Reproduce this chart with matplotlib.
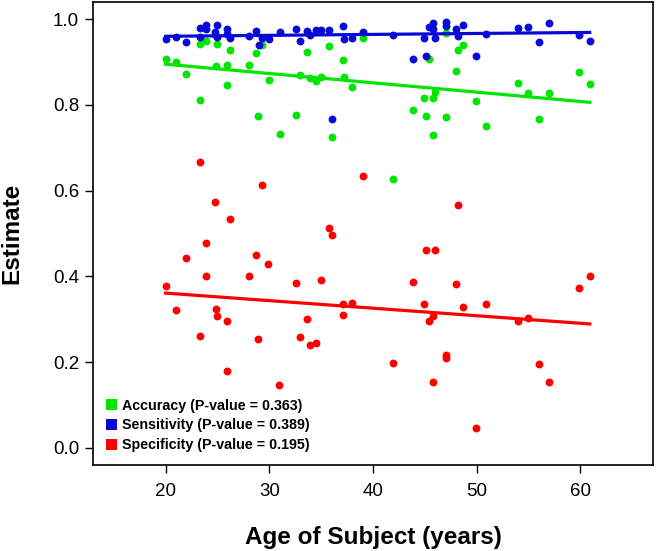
import numpy as np
import matplotlib
matplotlib.use('Agg')
import matplotlib.pyplot as plt
from matplotlib.patches import Patch

plt.rcParams['font.family'] = ['Liberation Sans', 'DejaVu Sans']

# ages (one per subject, sensitivity panel)
age_sens = [20, 21, 22, 23.3, 23.3, 23.9, 23.9, 24.8, 25, 25, 25.9, 25.9, 26.2,
            28, 28.7, 29, 29.3, 30, 31, 32.6, 33, 33.6, 33.9, 34.5, 35, 35.8,
            36, 37.1, 37.2, 38, 39, 41.9, 43.9, 44.9, 45.1, 45.4, 45.8, 45.8,
            46, 47, 47, 48, 48.2, 48.7, 49.9, 50.9, 54, 54.9, 56, 57, 59.9, 60.9]
sensitivity = [0.953, 0.959, 0.947, 0.98, 0.959, 0.987, 0.977, 0.971, 0.987, 0.959,
               0.977, 0.966, 0.955, 0.96, 0.973, 0.94, 0.955, 0.953, 0.969, 0.976,
               0.95, 0.973, 0.963, 0.975, 0.974, 0.974, 0.766, 0.983, 0.953, 0.955,
               0.969, 0.962, 0.907, 0.955, 0.914, 0.982, 0.99, 0.977, 0.955, 0.993,
               0.984, 0.976, 0.96, 0.987, 0.915, 0.965, 0.979, 0.981, 0.947, 0.99,
               0.963, 0.948]

age_acc = [20, 21, 22, 23.3, 23.3, 23.9, 24.8, 24.9, 25, 25.9, 25.9, 26.2, 28,
           28.7, 28.9, 29.3, 30, 31, 32.6, 33, 33.6, 33.9, 34.5, 35, 35.8, 36,
           37.1, 37.2, 38, 39, 41.9, 43.9, 44.9, 45.1, 45.4, 45.8, 45.8, 46, 47,
           47, 48, 48.2, 48.7, 49.9, 50.9, 54, 54.9, 56, 57, 59.9, 60.9]
accuracy = [0.906, 0.9, 0.871, 0.941, 0.812, 0.948, 0.962, 0.891, 0.941, 0.894,
            0.847, 0.927, 0.893, 0.922, 0.775, 0.939, 0.857, 0.731, 0.776, 0.87,
            0.924, 0.862, 0.856, 0.864, 0.938, 0.725, 0.905, 0.864, 0.842, 0.957,
            0.626, 0.787, 0.815, 0.775, 0.907, 0.815, 0.73, 0.831, 0.967, 0.772,
            0.88, 0.927, 0.939, 0.808, 0.751, 0.851, 0.828, 0.766, 0.827, 0.876,
            0.848]

age_spec = [23.3, 39, 29.3, 24.8, 26.2, 35.8, 36, 23.9, 22, 28.7, 29.9, 23.9, 28,
            32.6, 35, 20, 37.1, 38, 21, 24.9, 25, 25.9, 33.6, 37.1, 23.3, 28.9,
            33, 33.9, 34.5, 25.9, 30.9, 48.2, 45.1, 46, 43.9, 48, 60.9, 59.9,
            44.9, 48.7, 50.9, 45.8, 45.4, 54, 54.9, 41.9, 47, 47, 45.8, 56, 57,
            49.9]
specificity = [0.667, 0.633, 0.613, 0.573, 0.534, 0.513, 0.497, 0.479, 0.443, 0.45,
               0.428, 0.4, 0.4, 0.384, 0.391, 0.378, 0.335, 0.338, 0.321, 0.324,
               0.308, 0.296, 0.3, 0.31, 0.261, 0.254, 0.258, 0.241, 0.244, 0.179,
               0.147, 0.567, 0.462, 0.462, 0.387, 0.383, 0.4, 0.374, 0.336, 0.328,
               0.336, 0.308, 0.295, 0.295, 0.302, 0.199, 0.216, 0.209, 0.154, 0.196,
               0.153, 0.047]

# fitted trend values at the youngest / oldest age
fit_acc = [0.895, 0.806]
fit_sens = [0.960, 0.969]
fit_spec = [0.361, 0.289]

labels = ['Accuracy (P-value = 0.363)',
          'Sensitivity (P-value = 0.389)',
          'Specificity (P-value = 0.195)']

GREEN = '#00e600'
BLUE = '#0808d8'
RED = '#ff0000'

fig = plt.figure(figsize=(6.56, 5.51), dpi=100)
ax = fig.add_axes([93 / 656, 86 / 551, 560 / 656, 463 / 551])

ms = 32
for ages, vals, fit, col in [(age_acc, accuracy, fit_acc, GREEN),
                             (age_sens, sensitivity, fit_sens, BLUE),
                             (age_spec, specificity, fit_spec, RED)]:
    ax.scatter(ages, vals, s=ms, color=col, linewidths=0, zorder=3)
    ax.plot([min(ages), max(ages)], fit, color=col, lw=2.3, zorder=4)

ax.set_xlim(13, 67)
ax.set_ylim(-0.04, 1.04)
ax.set_xticks([20, 30, 40, 50, 60])
ax.set_yticks([0.0, 0.2, 0.4, 0.6, 0.8, 1.0])
ax.set_yticklabels(['0.0', '0.2', '0.4', '0.6', '0.8', '1.0'])
ax.tick_params(direction='out', length=6, width=1, labelsize=13.5, pad=4)
ax.tick_params(axis='x', pad=7)
for sp in ax.spines.values():
    sp.set_linewidth(1.2)

ax.set_xlabel('Age of Subject (years)', fontsize=17.5, fontweight='bold', labelpad=19)
ax.set_ylabel('Estimate', fontsize=17.5, fontweight='bold', labelpad=21)

handles = [Patch(facecolor=c, edgecolor='none') for c in (GREEN, BLUE, RED)]
ax.legend(handles, labels, loc='lower left', bbox_to_anchor=(0.0, 0.0),
          frameon=False, handlelength=0.8, handleheight=0.8, handletextpad=0.3,
          labelspacing=0.4, borderaxespad=0.5,
          prop={'size': 10.3, 'weight': 'bold'})

fig.savefig('out.png', dpi=100)
